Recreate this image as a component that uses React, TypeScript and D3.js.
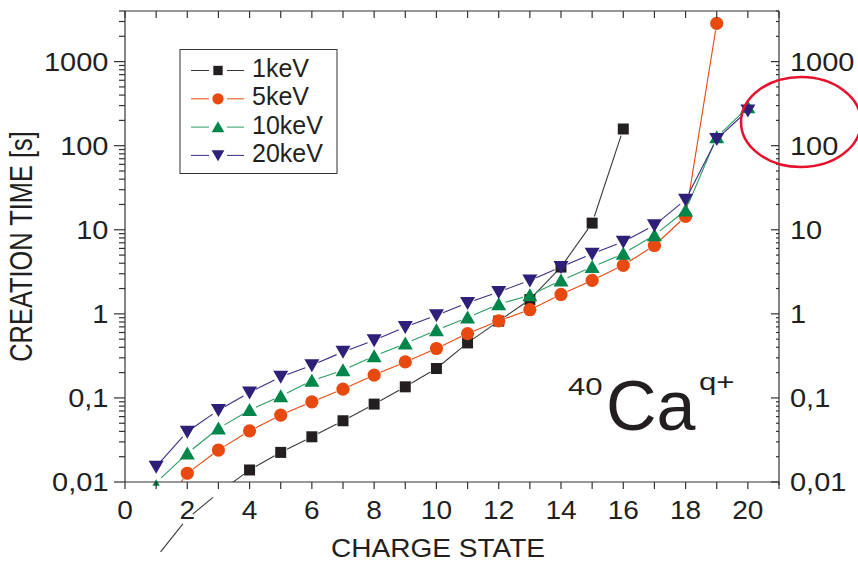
import React from 'react';
import * as d3 from 'd3';

const W = 858;
const H = 561;

// ---- data ----
const charges1keV = [1, 2, 3, 4, 5, 6, 7, 8, 9, 10, 11, 12, 13, 14, 15, 16];
const time1keV = [0.00127, 0.00368, 0.0074, 0.0139, 0.0225, 0.0345, 0.0535, 0.0844, 0.1355, 0.224, 0.451, 0.82, 1.48, 3.6, 12.0, 158];

const charges5keV = [1, 2, 3, 4, 5, 6, 7, 8, 9, 10, 11, 12, 13, 14, 15, 16, 17, 18, 19];
const time5keV = [0.0038, 0.0127, 0.024, 0.0406, 0.0625, 0.0899, 0.127, 0.187, 0.268, 0.387, 0.583, 0.824, 1.12, 1.7, 2.5, 3.78, 6.5, 14.4, 2850];

const charges10keV = [1, 2, 3, 4, 5, 6, 7, 8, 9, 10, 11, 12, 13, 14, 15, 16, 17, 18, 19, 20];
const time10keV = [0.0098, 0.0219, 0.0434, 0.0716, 0.105, 0.16, 0.214, 0.313, 0.444, 0.638, 0.904, 1.3, 1.66, 2.5, 3.6, 5.2, 8.6, 17, 126, 286];

const charges20keV = [1, 2, 3, 4, 5, 6, 7, 8, 9, 10, 11, 12, 13, 14, 15, 16, 17, 18, 19, 20];
const time20keV = [0.0152, 0.0396, 0.0716, 0.116, 0.178, 0.245, 0.353, 0.486, 0.699, 0.962, 1.35, 1.82, 2.5, 3.6, 5.2, 7.2, 11.3, 22.8, 120, 262];

const seriesNames = ['1keV', '5keV', '10keV', '20keV'];
const markerColors = ['#231f20', '#e8490f', '#00864a', '#2f1f78'];
const lineColors = ['#3a3a3a', '#e8490f', '#2a9d62', '#3a2d85'];
const markerShapes = ['square', 'circle', 'up', 'down'];

const xTicks = [0, 2, 4, 6, 8, 10, 12, 14, 16, 18, 20];
const yTickValues = [0.01, 0.1, 1, 10, 100, 1000];
const yTickLabels = ['0,01', '0,1', '1', '10', '100', '1000'];

const xDomain = [0, 21];
const yDomain = [0.01, 4000];

// ---- layout ----
const plot = { left: 125, right: 779, top: 11, bottom: 482 };
const FONT = "'Liberation Sans', Arial, Helvetica, sans-serif";
const TEXT = '#231f20';
const AXIS = '#333333';

const x = d3.scaleLinear().domain(xDomain).range([plot.left, plot.right]);
const y = d3.scaleLog().domain(yDomain).range([plot.bottom, plot.top]);

function markerPath(shape: string, s = 1): string {
  if (shape === 'square') {
    const h = 5.5 * s;
    return `M${-h},${-h}H${h}V${h}H${-h}Z`;
  }
  if (shape === 'circle') {
    const r = 6.6 * s;
    return `M${r},0A${r},${r} 0 1,1 ${-r},0A${r},${r} 0 1,1 ${r},0Z`;
  }
  if (shape === 'up') {
    return `M0,${-7 * s}L${7.5 * s},${6 * s}L${-7.5 * s},${6 * s}Z`;
  }
  return `M0,${7 * s}L${7.5 * s},${-6 * s}L${-7.5 * s},${-6 * s}Z`;
}

const seriesData = [
  { q: charges1keV, t: time1keV },
  { q: charges5keV, t: time5keV },
  { q: charges10keV, t: time10keV },
  { q: charges20keV, t: time20keV },
];

const GAP = 7;

function SText({
  x: tx,
  y: ty,
  sx = 1,
  anchor = 'start',
  size,
  children,
}: {
  x: number;
  y: number;
  sx?: number;
  anchor?: string;
  size: number;
  children: React.ReactNode;
}) {
  return (
    <text
      transform={`translate(${tx},${ty}) scale(${sx},1)`}
      textAnchor={anchor}
      fontSize={size}
      fill={TEXT}
    >
      {children}
    </text>
  );
}

function Series({ idx }: { idx: number }) {
  const { q, t } = seriesData[idx];
  const pts = q.map((c, i) => ({ px: x(c), py: y(t[i]), v: t[i] }));
  const segs: React.ReactElement[] = [];
  for (let i = 0; i < pts.length - 1; i++) {
    const a = pts[i];
    const b = pts[i + 1];
    const dx = b.px - a.px;
    const dy = b.py - a.py;
    const L = Math.hypot(dx, dy);
    if (L <= 2 * GAP) continue;
    const ux = dx / L;
    const uy = dy / L;
    const bothOut = a.v < yDomain[0] && b.v < yDomain[0];
    segs.push(
      <line
        key={i}
        x1={a.px + ux * GAP}
        y1={a.py + uy * GAP}
        x2={b.px - ux * GAP}
        y2={b.py - uy * GAP}
        stroke={lineColors[idx]}
        strokeWidth={1.1}
        clipPath={bothOut ? undefined : 'url(#plotClip)'}
      />
    );
  }
  const marks = pts
    .filter((p) => p.v >= yDomain[0] * 0.9)
    .map((p, i) => (
      <path
        key={i}
        d={markerPath(markerShapes[idx], p.v < yDomain[0] ? 0.5 : 1)}
        transform={`translate(${p.px},${p.py})`}
        fill={markerColors[idx]}
      />
    ));
  return (
    <g>
      {segs}
      {marks}
    </g>
  );
}

export default function App() {
  const allTicks = d3.range(xDomain[0], xDomain[1] + 1);
  const minorY: number[] = [];
  for (let e = -2; e <= 3; e++) {
    for (let m = 2; m <= 9; m++) {
      const v = m * Math.pow(10, e);
      if (v <= yDomain[1]) minorY.push(v);
    }
  }
  const legendTop = 49.5;
  const legendRow0 = 70.5;
  const legendStep = 28.3;
  const yMid = (plot.top + plot.bottom) / 2;

  return (
    <svg
      width={W}
      height={H}
      style={{ position: 'absolute', left: 0, top: 0, background: '#fff' }}
      fontFamily={FONT}
    >
      <defs>
        <clipPath id="plotClip">
          <rect x={plot.left} y={plot.top} width={plot.right - plot.left} height={plot.bottom - plot.top} />
        </clipPath>
      </defs>
      <rect x={0} y={0} width={W} height={H} fill="#fff" />

      {/* series */}
      {seriesNames.map((_, i) => (
        <Series key={i} idx={i} />
      ))}

      {/* axes frame */}
      <g stroke={AXIS} strokeWidth={1.2} fill="none">
        <line x1={plot.left} y1={plot.top} x2={plot.right} y2={plot.top} />
        <line x1={plot.left} y1={plot.bottom} x2={plot.right} y2={plot.bottom} />
        <line x1={plot.left} y1={plot.top} x2={plot.left} y2={plot.bottom} />
        <line x1={plot.right} y1={plot.top} x2={plot.right} y2={plot.bottom + 3} />
      </g>

      {/* x ticks bottom (outward) and top (inward) */}
      <g stroke={AXIS} strokeWidth={1.2}>
        {allTicks.map((v) => (
          <g key={v}>
            <line x1={x(v)} x2={x(v)} y1={plot.bottom} y2={plot.bottom + 7} />
            <line x1={x(v)} x2={x(v)} y1={plot.top} y2={plot.top + 7} />
          </g>
        ))}
      </g>
      {/* y ticks left (outward) and right (inward) */}
      <g stroke={AXIS} strokeWidth={1.2}>
        {yTickValues.map((v) => (
          <g key={v}>
            <line x1={plot.left - 11} x2={plot.left} y1={y(v)} y2={y(v)} />
            <line x1={plot.right - 8} x2={plot.right} y1={y(v)} y2={y(v)} />
          </g>
        ))}
        {minorY.map((v) => (
          <g key={v}>
            <line x1={plot.left - 6} x2={plot.left} y1={y(v)} y2={y(v)} />
            <line x1={plot.right - 3} x2={plot.right} y1={y(v)} y2={y(v)} />
          </g>
        ))}
      </g>

      {/* tick labels */}
      {xTicks.map((v) => (
        <SText key={v} x={x(v)} y={519} sx={1.1} anchor="middle" size={25.5}>
          {String(v)}
        </SText>
      ))}
      {yTickValues.map((v, i) => (
        <SText key={'l' + v} x={108.5} y={y(v) + 9} sx={1.16} anchor="end" size={25}>
          {yTickLabels[i]}
        </SText>
      ))}
      {yTickValues.map((v, i) => (
        <SText key={'r' + v} x={790} y={y(v) + 9} sx={1.16} anchor="start" size={25}>
          {yTickLabels[i]}
        </SText>
      ))}

      {/* axis titles */}
      <SText x={438} y={556.5} sx={1.1} anchor="middle" size={25.5}>
        CHARGE STATE
      </SText>
      <text
        transform={`translate(32,${yMid}) rotate(-90) scale(1,1.2)`}
        textAnchor="middle"
        fontSize={25.4}
        fill={TEXT}
      >
        CREATION TIME [s]
      </text>

      {/* legend */}
      <rect x={180} y={legendTop} width={157} height={124} fill="#fff" stroke={AXIS} strokeWidth={1} />
      {seriesNames.map((name, i) => {
        const cy = legendRow0 + i * legendStep;
        return (
          <g key={name}>
            <line x1={191} x2={209} y1={cy} y2={cy} stroke={lineColors[i]} strokeWidth={1} />
            <line x1={227} x2={244} y1={cy} y2={cy} stroke={lineColors[i]} strokeWidth={1} />
            <path d={markerPath(markerShapes[i], 0.85)} transform={`translate(218,${cy})`} fill={markerColors[i]} />
            <SText x={252} y={cy + 6.5} size={25}>
              {name}
            </SText>
          </g>
        );
      })}

      {/* annotation */}
      <SText x={568} y={395} sx={1.3} size={24}>40</SText>
      <SText x={606} y={430} size={70}>Ca</SText>
      <SText x={699} y={390} sx={1.3} size={24}>q+</SText>

      {/* red ellipse */}
      <ellipse cx={801} cy={122} rx={60} ry={45} fill="none" stroke="#e8112d" strokeWidth={2.5} />
    </svg>
  );
}
